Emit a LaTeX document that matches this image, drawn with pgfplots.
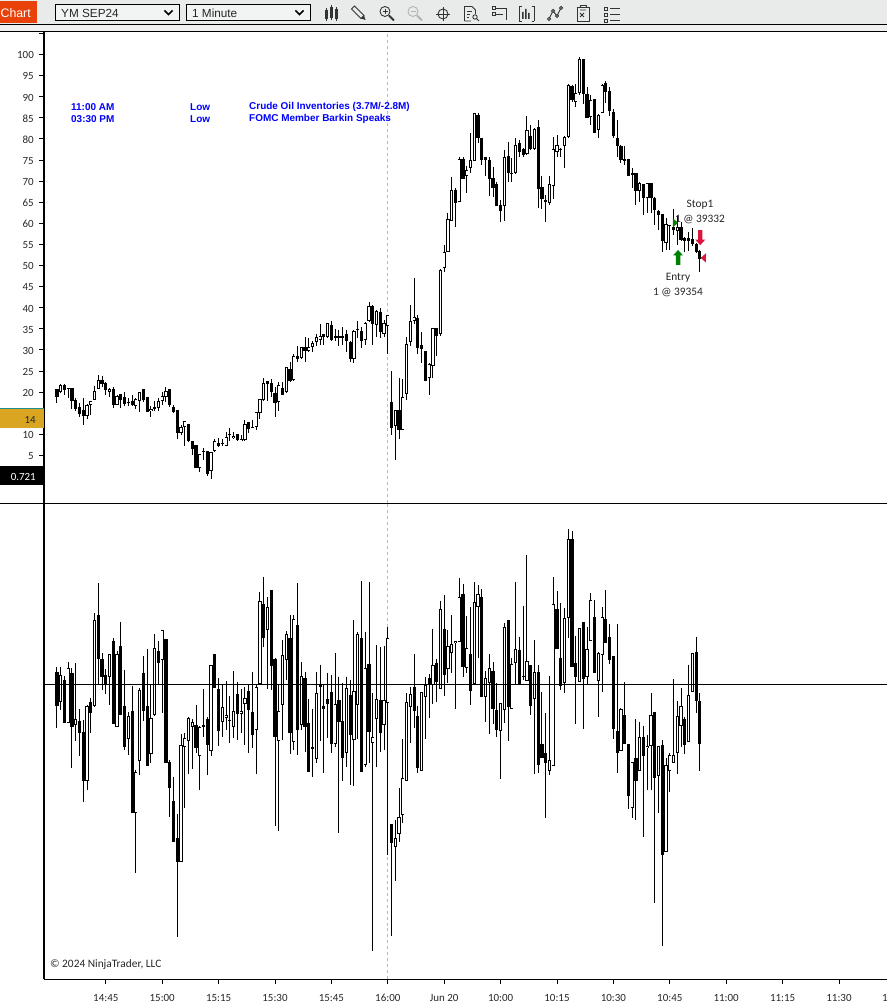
\documentclass[border=0pt]{standalone}
\usepackage{fontspec}
\setmainfont{Carlito}
\newfontfamily\arialish{Liberation Sans}
\usepackage{pgfplots}
\usepackage{pgfplotstable}
\pgfplotsset{compat=1.18}
\definecolor{barfill}{HTML}{E9EBEB}
\definecolor{barband}{HTML}{F0F0F0}
\definecolor{chartorange}{HTML}{E8410A}
\definecolor{gold}{HTML}{DAA520}
\definecolor{tealline}{HTML}{1E8E8E}
\definecolor{entrygreen}{HTML}{008000}
\definecolor{stopred}{HTML}{DC143C}
\definecolor{icon}{HTML}{333333}

% k open high low close, price axis in points
\pgfplotstableread{
k o h l c
0 20.7 20.7 17.5 18.8
1 20.1 21.9 19.7 21.6
2 21.6 21.9 19.3 20.5
3 20.9 20.9 18.5 20.7
4 20.9 20.9 16.0 18.0
5 18.1 18.5 15.6 16.0
6 16.4 17.3 14.2 14.9
7 15.7 18.5 12.2 14.4
8 14.4 17.2 13.6 16.9
9 17.0 18.0 14.6 18.0
10 18.2 21.4 18.1 20.2
11 20.8 24.0 20.7 22.8
12 22.8 23.7 21.3 21.9
13 22.1 22.3 19.3 20.5
14 20.1 20.9 18.9 20.8
15 20.7 21.1 16.2 17.0
16 17.0 19.3 16.9 19.1
17 19.5 19.6 16.2 18.1
18 18.8 20.0 16.7 17.1
19 17.7 18.5 16.6 17.5
20 18.0 19.2 16.8 17.0
21 16.8 18.5 16.0 18.3
22 18.0 20.1 15.4 20.0
23 20.7 20.7 17.7 18.1
24 18.8 18.9 15.2 15.4
25 15.6 16.6 14.2 16.1
26 16.4 17.9 15.6 16.1
27 16.2 18.5 15.6 18.0
28 18.0 20.0 16.9 19.0
29 18.9 21.1 17.7 20.2
30 20.7 20.7 16.4 16.9
31 16.4 16.9 15.0 15.4
32 15.7 15.8 9.0 10.4
33 10.4 12.2 9.8 11.7
34 11.8 13.2 7.3 13.1
35 12.5 12.5 8.2 8.3
36 8.3 8.4 5.1 6.6
37 7.4 7.4 2.0 2.0
38 1.9 5.3 1.1 5.3
39 6.0 6.8 3.9 5.7
40 6.0 6.0 0.0 0.6
41 1.2 5.9 -0.5 5.7
42 6.0 9.0 5.9 8.3
43 7.9 9.1 7.1 7.3
44 7.9 9.0 7.2 7.7
45 7.3 10.6 7.2 9.3
46 10.0 11.4 8.3 9.8
47 9.1 10.6 9.0 9.7
48 10.0 10.1 8.3 8.6
49 8.3 9.8 8.3 9.0
50 8.6 13.4 8.5 12.4
51 12.8 13.0 10.4 11.2
52 11.7 13.4 11.4 11.6
53 11.8 15.4 11.0 15.4
54 15.0 18.3 13.7 18.3
55 18.1 23.3 18.0 22.1
56 22.6 22.6 17.9 22.0
57 22.1 23.0 18.9 20.1
58 19.9 21.1 14.2 17.5
59 17.6 22.3 15.6 21.6
60 21.0 22.3 19.3 19.4
61 20.0 25.9 19.9 25.9
62 25.4 27.1 22.5 22.7
63 22.8 29.0 22.7 28.5
64 28.6 30.9 27.2 27.9
65 28.0 30.6 27.8 30.6
66 30.6 33.1 27.2 29.8
67 29.7 32.7 29.6 30.6
68 30.6 32.0 29.5 31.7
69 31.8 33.7 31.0 33.0
70 32.4 36.1 31.2 33.3
71 33.7 33.8 31.2 33.1
72 33.0 36.3 32.9 36.3
73 35.8 36.9 32.2 32.4
74 33.2 34.9 32.1 32.9
75 33.2 34.6 30.9 32.9
76 33.2 35.4 31.2 32.9
77 33.7 34.7 29.6 32.2
78 31.8 32.0 27.2 27.8
79 27.8 34.6 27.0 34.4
80 35.0 36.8 32.9 34.8
81 34.4 35.4 30.5 32.2
82 32.3 36.5 31.2 36.3
83 36.8 41.3 36.7 40.3
84 40.3 40.6 31.2 36.2
85 35.8 39.5 33.1 39.3
86 38.9 39.9 32.9 34.3
87 33.8 37.1 33.1 36.3
88 35.7 38.2 29.0 38.2
89 17.6 25.0 9.9 11.6
90 11.9 15.8 3.9 15.7
91 15.7 23.3 9.0 10.9
92 11.1 23.1 11.0 18.9
93 19.5 33.1 18.1 31.3
94 31.8 40.6 30.9 36.8
95 36.8 47.0 36.1 37.7
96 37.5 38.3 29.0 30.5
97 31.2 34.3 27.0 30.2
98 29.7 29.7 22.7 22.7
99 23.4 26.8 19.3 26.6
100 26.1 35.1 23.3 35.1
101 35.2 35.2 28.6 33.2
102 33.8 49.2 33.4 48.9
103 49.3 54.9 48.5 53.1
104 53.2 62.5 53.1 61.0
105 60.6 71.0 60.6 67.9
106 67.9 68.3 59.1 64.7
107 65.1 75.6 65.1 75.2
108 75.2 75.6 70.4 70.6
109 71.1 73.6 67.1 72.6
110 73.0 81.3 72.0 75.0
111 74.8 86.2 74.8 86.1
112 85.7 86.2 79.1 80.3
113 80.1 80.1 73.8 75.0
114 75.7 75.8 71.1 75.0
115 75.0 75.6 66.5 70.6
116 70.7 73.4 66.3 68.4
117 69.2 69.9 64.0 64.0
118 64.3 65.5 60.2 62.8
119 64.0 77.4 60.6 75.6
120 76.0 79.3 69.9 71.8
121 71.9 75.4 69.9 71.8
122 71.8 80.1 71.7 78.5
123 79.0 79.7 75.8 76.9
124 77.5 77.8 75.8 76.2
125 76.4 85.4 76.2 82.0
126 80.8 83.3 77.4 77.7
127 77.5 82.5 77.4 82.3
128 82.7 84.5 63.6 68.1
129 68.7 71.1 63.3 65.8
130 65.5 66.6 60.2 65.1
131 64.7 71.2 64.3 69.2
132 68.8 80.5 65.8 77.5
133 77.0 80.9 75.6 78.5
134 77.7 77.8 75.6 77.6
135 78.2 80.7 73.0 80.4
136 80.4 93.0 80.1 92.8
137 92.5 92.8 88.8 89.1
138 88.7 93.0 87.5 90.8
139 90.8 99.3 90.4 98.9
140 98.9 98.9 88.2 90.6
141 90.6 92.4 84.9 84.9
142 85.3 90.4 83.3 89.2
143 89.4 89.4 81.5 81.5
144 82.0 85.9 80.1 85.7
145 86.1 92.9 86.1 92.8
146 93.2 93.6 88.4 91.2
147 91.4 92.4 85.4 86.7
148 86.3 87.0 80.1 80.8
149 80.1 84.5 75.6 78.2
150 78.2 78.6 74.2 75.0
151 75.2 78.2 73.8 74.8
152 75.2 75.2 71.1 71.2
153 71.4 73.0 68.3 71.8
154 71.8 71.8 64.3 67.7
155 67.7 69.9 65.1 69.5
156 69.2 69.3 62.0 65.9
157 65.9 69.5 62.4 69.5
158 69.5 69.6 62.4 65.9
159 65.9 66.3 59.6 63.2
160 62.8 63.2 58.4 62.0
161 62.2 62.2 53.1 55.7
162 55.3 61.2 53.7 59.8
163 59.5 59.6 53.7 59.4
164 59.1 63.3 57.2 58.3
165 58.2 61.8 54.9 59.1
166 59.1 60.4 55.7 56.1
167 56.4 56.8 53.1 55.7
168 56.4 58.0 53.4 55.7
169 56.2 58.8 54.5 55.1
170 55.1 55.3 52.9 53.1
171 53.5 53.7 48.5 51.5
}\topbars

% lower panel, no scale shown on the chart: three units to the pixel
\pgfplotstableread{
k o h l c
0 37 51 -130 -64
1 -54 51 -77 27
2 13 25 -115 -115
3 -117 66 -117 48
4 34 48 -250 -127
5 -121 63 -169 -105
6 -110 -75 -214 -145
7 -143 -107 -352 -289
8 -291 -62 -317 -65
9 -53 -42 -145 -85
10 -66 213 -67 192
11 208 303 0 77
12 76 93 -17 23
13 28 46 -29 0
14 23 91 -62 91
15 130 138 -118 -118
16 -127 100 -127 91
17 115 186 -91 -91
18 -65 43 -197 -187
19 -163 -82 -212 -95
20 -80 -5 -385 -385
21 -385 -257 -566 -264
22 -229 -12 -272 -17
23 34 85 -110 -79
24 -65 106 -244 -244
25 -208 -2 -237 -101
26 -92 151 -95 108
27 100 130 -2 65
28 72 163 -87 162
29 136 136 -235 -235
30 -233 -227 -397 -310
31 -350 -277 -472 -472
32 -461 -389 -758 -532
33 -532 -149 -532 -182
34 -189 -147 -370 -162
35 -169 -97 -269 -102
36 -127 -105 -254 -114
37 -122 -62 -205 -190
38 -214 -125 -317 -127
39 -122 -14 -157 -127
40 -104 -97 -272 -183
41 -199 58 -215 57
42 90 90 -10 -10
43 -15 18 -185 -139
44 -112 -2 -157 -69
45 -100 10 -137 -93
46 -107 -35 -175 -109
47 -127 40 -160 -81
48 -30 6 -167 -88
49 -88 -15 -147 -80
50 -60 -9 -182 -42
51 -20 -2 -205 -76
52 -83 38 -192 -151
53 -136 -2 -269 -9
54 1 276 -2 249
55 241 321 113 140
56 162 261 -14 232
57 283 283 -17 56
58 75 78 -425 -157
59 -169 -2 -439 -81
60 -63 133 -167 87
61 74 160 13 150
62 138 208 -209 -145
63 -174 208 -197 195
64 178 303 -212 -137
65 -123 66 -137 24
66 19 38 -202 -127
67 -117 -44 -262 -262
68 -189 -74 -277 -193
69 -223 38 -237 -27
70 -1 58 -170 -7
71 -65 -2 -265 -73
72 -45 33 -162 -58
73 -24 28 -205 -178
74 -178 93 -187 -60
75 -48 23 -447 -113
76 -111 3 -289 -220
77 -207 23 -247 -12
78 -33 13 -302 -151
79 -166 193 -305 -21
80 -61 157 -164 151
81 138 310 -262 -262
82 -241 158 -247 48
83 60 306 -235 -142
84 -177 -27 -799 -159
85 -105 118 -247 -45
86 -47 111 -202 -147
87 -123 115 -197 -48
88 -57 171 -512 138
89 -419 -419 -754 -475
90 -487 -407 -589 -462
91 -449 -311 -472 -398
92 -392 -165 -417 -281
93 -289 -27 -289 -52
94 -67 -7 -175 -30
95 -9 90 -130 -79
96 -95 -65 -265 -251
97 -259 -24 -259 -24
98 -37 23 -164 -2
99 18 31 -100 -2
100 -2 166 -59 58
101 63 75 -52 7
102 -15 250 -15 225
103 165 268 -34 29
104 45 163 5 115
105 93 208 35 120
106 123 131 -73 131
107 126 318 126 261
108 270 300 23 53
109 50 205 35 108
110 90 231 -61 -19
111 0 306 0 246
112 231 298 78 270
113 261 286 -37 -37
114 -39 40 -112 18
115 3 90 -150 48
116 40 66 -119 -73
117 -77 3 -157 -137
118 -139 -55 -285 -57
119 -78 185 -115 173
120 193 193 -169 -67
121 -73 78 -73 60
122 63 306 0 105
123 103 143 0 0
124 25 235 13 23
125 11 388 11 69
126 57 57 -92 -64
127 -45 133 -269 36
128 36 58 -267 -242
129 -179 -24 -221 -221
130 -207 -87 -402 -237
131 -259 25 -271 -228
132 -244 321 -244 240
133 226 280 107 107
134 78 243 -17 -4
135 3 228 -25 198
136 198 465 138 435
137 436 460 53 53
138 63 146 -119 23
139 8 168 8 168
140 186 186 -135 17
141 21 173 0 105
142 131 273 131 252
143 201 253 35 35
144 11 96 -97 93
145 87 231 -22 201
146 195 283 125 125
147 141 181 60 73
148 85 85 -164 -134
149 -141 181 -265 -207
150 -199 -72 -199 -74
151 -93 6 -178 -178
152 -180 -180 -375 -334
153 -370 -232 -402 -233
154 -222 -105 -407 -289
155 -259 -112 -259 -157
156 -159 -124 -457 -214
157 -192 -152 -317 -184
158 -184 -25 -317 -93
159 -84 -84 -655 -280
160 -274 -184 -385 -184
161 -182 -167 -784 -511
162 -502 -222 -502 -243
163 -259 -207 -322 -213
164 -237 16 -237 -213
165 -207 -50 -269 -96
166 -126 -10 -187 -66
167 -105 -97 -210 -181
168 -174 58 -174 -33
169 -22 93 -22 93
170 96 143 -85 -49
171 -50 -27 -259 -178
}\lowbars

\pgfplotsset{
  candle/.style={draw=none,forget plot,
    error bars/y dir=minus,error bars/y explicit,error bars/error mark=none},
  wick/.style={candle,error bars/error bar style={draw=black,line width=1bp}},
  body/.style={candle,error bars/error bar style={draw=black,line width=3.2bp}},
  hollow/.style={candle,error bars/error bar style={draw=white,line width=1.5bp}},
  panel/.style={scale only axis,width=843bp,xmin=-3.44,xmax=220.77,
    axis line style={-,line width=1.1bp},tick style={black,line width=.8bp},
    tick align=outside,major tick length=5bp,
    tick label style={font=\fontsize{11}{13}\selectfont,text=black!85}},
}
% wicks, then every body in black, then the inside of the rising ones
\newcommand{\candles}[2]{%
  \addplot[wick] table[x=k,y=h,y error minus expr={\thisrow{h}-\thisrow{l}}] {#1};
  \addplot[body] table[x=k,y expr={max(\thisrow{o},\thisrow{c})},y error minus expr={abs(\thisrow{o}-\thisrow{c})}] {#1};
  \addplot[hollow] table[x=k,y expr={\thisrow{c}>\thisrow{o}?\thisrow{c}-#2:nan},y error minus expr={max(\thisrow{c}-\thisrow{o}-2*#2,0)}] {#1};
}
\pgfdeclareplotmark{tradeup}{%
  \pgfpathmoveto{\pgfqpoint{0bp}{7.5bp}}\pgfpathlineto{\pgfqpoint{5bp}{2bp}}%
  \pgfpathlineto{\pgfqpoint{2.2bp}{2bp}}\pgfpathlineto{\pgfqpoint{2.2bp}{-7.5bp}}%
  \pgfpathlineto{\pgfqpoint{-2.2bp}{-7.5bp}}\pgfpathlineto{\pgfqpoint{-2.2bp}{2bp}}%
  \pgfpathlineto{\pgfqpoint{-5bp}{2bp}}\pgfpathclose\pgfusepathqfill}
\pgfdeclareplotmark{tradedown}{%
  \pgfpathmoveto{\pgfqpoint{0bp}{-7.5bp}}\pgfpathlineto{\pgfqpoint{5bp}{-2bp}}%
  \pgfpathlineto{\pgfqpoint{2.2bp}{-2bp}}\pgfpathlineto{\pgfqpoint{2.2bp}{7.5bp}}%
  \pgfpathlineto{\pgfqpoint{-2.2bp}{7.5bp}}\pgfpathlineto{\pgfqpoint{-2.2bp}{-2bp}}%
  \pgfpathlineto{\pgfqpoint{-5bp}{-2bp}}\pgfpathclose\pgfusepathqfill}
\pgfdeclareplotmark{traderight}{%
  \pgfpathmoveto{\pgfqpoint{2.5bp}{0bp}}\pgfpathlineto{\pgfqpoint{-2.5bp}{4.5bp}}%
  \pgfpathlineto{\pgfqpoint{-2.5bp}{-4.5bp}}\pgfpathclose\pgfusepathqfill}
\pgfdeclareplotmark{tradeleft}{%
  \pgfpathmoveto{\pgfqpoint{-2.5bp}{0bp}}\pgfpathlineto{\pgfqpoint{2.5bp}{4.5bp}}%
  \pgfpathlineto{\pgfqpoint{2.5bp}{-4.5bp}}\pgfpathclose\pgfusepathqfill}

\begin{document}
\begin{tikzpicture}
\path[use as bounding box] (0,0) rectangle (887bp,1005bp);

% price panel
\begin{axis}[panel,name=upper,at={(44bp,502bp)},anchor=south west,height=471bp,
    ymin=-6.28,ymax=105.33,axis x line=none,axis y line*=left,
    xtick=\empty,
    ytick={0,5,...,105},
    yticklabels={,5,10,,20,25,30,35,40,45,50,55,60,65,70,75,80,85,90,95,100,},
    y tick label style={inner sep=0pt,xshift=-5bp,yshift=-.8bp,anchor=east}]
\addplot[gray!55,dashed,line width=.8bp,forget plot] coordinates {(87.9,-6.28) (87.9,105.33)};
\candles{\topbars}{0.24}
\addplot[only marks,mark=tradeup,color=entrygreen,forget plot] coordinates {(165.2,51.9)};
\addplot[only marks,mark=tradedown,color=stopred,forget plot] coordinates {(171.1,56.6)};
\addplot[only marks,mark=traderight,color=entrygreen,forget plot] coordinates {(164.5,60.1)};
\addplot[only marks,mark=tradeleft,color=stopred,forget plot] coordinates {(171.9,51.8)};
\end{axis}

% lower panel
\begin{axis}[panel,name=lower,at={(44bp,25.7bp)},anchor=south west,height=476.3bp,
    ymin=-885,ymax=544,axis x line*=bottom,axis y line*=left,
    ytick=\empty,
    xtick={13,28,43,58,73,88,103,118,133,148,163,178,193,208},
    xticklabels={14:45,15:00,15:15,15:30,15:45,16:00,Jun 20,10:00,10:15,10:30,10:45,11:00,11:15,11:30},
    x tick label style={inner sep=0pt,yshift=-9.5bp,anchor=north}]
\addplot[gray!55,dashed,line width=.8bp,forget plot] coordinates {(87.9,-885) (87.9,544)};
\candles{\lowbars}{3}
\addplot[black,line width=1bp,forget plot] coordinates {(-3.44,0) (220.77,0)};
\end{axis}

% window furniture, in pixels from the top left
\begin{scope}[x=1bp,y=-1bp,shift={(0bp,1005bp)}]
  \fill[barfill] (0,0) rectangle (887,24);
  \fill[barband] (0,25) rectangle (887,31);
  \draw[black,line width=1.1bp] (0,24.5) -- (887,24.5);
  \draw[black,line width=1.2bp] (0,31.8) -- (887,31.8);
  \draw[black,line width=1bp] (0,503.4) -- (887,503.4);
  \draw[black,line width=1.1bp] (44,979.4) -- (887,979.4);
  \fill[chartorange] (0,1) rectangle (37,23.5);
  \node[anchor=east,inner sep=0pt,white] at (31,13) {\arialish\fontsize{12.4}{15}\selectfont Chart};
  % symbol and interval boxes
  \draw[black,line width=1bp,fill=barfill!60!white] (55.5,4.5) rectangle (179.5,21);
  \draw[black,line width=1bp,fill=barfill!60!white] (186.5,4.5) rectangle (310.5,21);
  \node[anchor=west,inner sep=0pt,black!85] at (61,13) {\arialish\fontsize{11.8}{14}\selectfont YM SEP24};
  \node[anchor=west,inner sep=0pt,black!85] at (192,13) {\arialish\fontsize{11.8}{14}\selectfont 1 Minute};
  \draw[black,line width=1.6bp] (164.5,10.5) -- (168.5,14.5) -- (172.5,10.5);
  \draw[black,line width=1.6bp] (295.5,10.5) -- (299.5,14.5) -- (303.5,10.5);
  % toolbar icons
  \begin{scope}[icon,line width=.9bp]
    \fill (325,10) rectangle (328,19); \draw (326.5,8) -- (326.5,21);
    \fill (330,7) rectangle (333,18); \draw (331.5,5) -- (331.5,20);
    \fill (335,9) rectangle (338,19); \draw (336.5,7) -- (336.5,21);
    \draw[fill=barfill] (354.5,6) -- (351.5,9) -- (361,18.5) -- (364,15.5) -- cycle;
    \fill (361,18.5) -- (365.5,20) -- (364,15.5) -- cycle;
    \draw (385,11.5) circle (5); \draw (382.5,11.5) -- (387.5,11.5) (385,9) -- (385,14);
    \draw[line width=2bp] (389,15.5) -- (394,20.5);
    \begin{scope}[black!30]
      \draw (413,11.5) circle (5); \draw (410.5,11.5) -- (415.5,11.5);
      \draw[line width=2bp] (417,15.5) -- (422,20.5);
    \end{scope}
    \draw (443,14) circle (5); \draw (436,14) -- (450,14) (443,7) -- (443,21);
    \draw (464.5,21) -- (464.5,6.5) -- (472,6.5) -- (475.5,10) -- (475.5,14) (464.5,21) -- (471,21);
    \draw (467,11) -- (472,11) (467,14) -- (470,14) (467,17) -- (469,17);
    \draw (475,17) circle (2.2); \draw (477,19) -- (479,21);
    \draw (492,6.5) rectangle (495,9.5) (492,12.5) rectangle (495,15.5);
    \draw (495,8) -- (506,8) -- (506,20) (495,14) -- (503,14);
    \draw (519,6.5) -- (519,21) (521.5,6.5) -- (519,6.5) (521.5,21) -- (519,21);
    \draw (534,6.5) -- (534,21) (531.5,6.5) -- (534,6.5) (531.5,21) -- (534,21);
    \fill (522,12) rectangle (523.5,19) (525,9) rectangle (526.5,19) (528,13) rectangle (529.5,19);
    \draw (549,19) -- (553,11) -- (557,16) -- (561,8);
    \foreach \p in {(549,19),(553,11),(557,16),(561,8)} \draw[fill=barfill] \p circle (1.6);
    \draw (577,7) rectangle (589,21); \draw (580,7) -- (580,5.5) -- (586,5.5) -- (586,7);
    \draw (580,10) -- (586,10) (580,13) -- (584,17) (584,13) -- (580,17);
    \draw (604,7) rectangle (607,10) (604,13) rectangle (607,16) (604,19) rectangle (607,22);
    \draw (610,8.5) -- (620,8.5) (610,14.5) -- (620,14.5) (610,20.5) -- (620,20.5);
  \end{scope}
  % left price boxes
  \fill[gold] (0,409) rectangle (44,428);
  \draw[tealline,line width=1bp] (0,408.3) -- (44,408.3);
  \node[anchor=east,inner sep=0pt,black!85] at (36,420) {\fontsize{11}{13}\selectfont 14};
  \fill[black] (0,466.5) rectangle (44,485);
  \node[anchor=east,inner sep=0pt,white] at (36,477) {\fontsize{11}{13}\selectfont 0.721};
  % news lines
  \begin{scope}[blue]
    \node[anchor=west,inner sep=0pt] at (71,107) {\arialish\bfseries\fontsize{10}{12}\selectfont 11:00 AM};
    \node[anchor=west,inner sep=0pt] at (190,107) {\arialish\bfseries\fontsize{10}{12}\selectfont Low};
    \node[anchor=west,inner sep=0pt] at (249,107) {\arialish\bfseries\fontsize{10}{12}\selectfont Crude Oil Inventories (3.7M/-2.8M)};
    \node[anchor=west,inner sep=0pt] at (71,119) {\arialish\bfseries\fontsize{10}{12}\selectfont 03:30 PM};
    \node[anchor=west,inner sep=0pt] at (190,119) {\arialish\bfseries\fontsize{10}{12}\selectfont Low};
    \node[anchor=west,inner sep=0pt] at (249,119) {\arialish\bfseries\fontsize{10}{12}\selectfont FOMC Member Barkin Speaks};
  \end{scope}
  % trade labels
  \node[inner sep=0pt,black!85] at (700,205) {\fontsize{11.4}{13}\selectfont Stop1};
  \node[inner sep=0pt,black!85] at (700,219) {\fontsize{11.4}{13}\selectfont 1 @ 39332};
  \node[inner sep=0pt,black!85] at (678,278) {\fontsize{11.4}{13}\selectfont Entry};
  \node[inner sep=0pt,black!85] at (678,292) {\fontsize{11.4}{13}\selectfont 1 @ 39354};
  \node[anchor=west,inner sep=0pt,black!85] at (50,965) {\fontsize{11.4}{13}\selectfont © 2024 NinjaTrader, LLC};
  \node[anchor=west,inner sep=0pt,black!85] at (882,998) {\fontsize{11}{13}\selectfont 1};
\end{scope}
\end{tikzpicture}
\end{document}
